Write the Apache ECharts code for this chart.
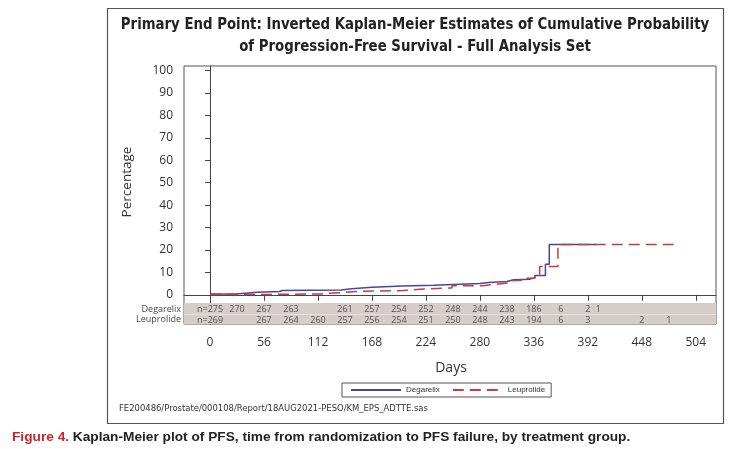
<!DOCTYPE html>
<html><head><meta charset="utf-8">
<script src="https://cdn.jsdelivr.net/npm/echarts@6/dist/echarts.min.js"></script>
<style>html,body{margin:0;padding:0;background:#fff}#c{width:738px;height:449px}</style>
</head><body><div id="c"></div>
<script>
// ---- data ----
const xTicks = [0, 56, 112, 168, 224, 280, 336, 392, 448, 504];
const yTicks = [0, 10, 20, 30, 40, 50, 60, 70, 80, 90, 100];

const degarelixDays = [0, 27, 49, 72, 75, 136, 147, 168, 200, 232, 280, 289, 308, 315, 332, 337, 348, 352, 401];
const degarelixPct  = [0.4, 1.2, 1.5, 1.9, 2.2, 2.7, 3.4, 3.9, 4.3, 5.0, 5.5, 5.9, 6.7, 7.0, 7.6, 8.6, 13.6, 22.4, 22.4];

const leuprolideDays = [0, 52, 114, 136, 151, 200, 218, 251, 283, 296, 314, 323, 337, 342, 361, 482];
const leuprolidePct  = [0.15, 0.4, 1.0, 1.5, 1.9, 2.5, 3.1, 4.0, 4.7, 5.5, 6.4, 7.4, 8.9, 12.6, 22.4, 22.4];

const degRiskDays   = [0, 28, 56, 84, 140, 168, 196, 224, 252, 280, 308, 336, 364, 392, 403];
const degRiskCounts = ['n=275', '270', '267', '263', '261', '257', '254', '252', '248', '244', '238', '186', '6', '2', '1'];
const leuRiskDays   = [0, 56, 84, 112, 140, 168, 196, 224, 252, 280, 308, 336, 364, 392, 448, 476];
const leuRiskCounts = ['n=269', '267', '264', '260', '257', '256', '254', '251', '250', '248', '243', '194', '6', '3', '2', '1'];

const seriesNames = ['Degarelix', 'Leuprolide'];
const titleLines = ['Primary End Point: Inverted Kaplan-Meier Estimates of Cumulative Probability',
                    'of Progression-Free Survival - Full Analysis Set'];
const footerText = 'FE200486/Prostate/000108/Report/18AUG2021-PESO/KM_EPS_ADTTE.sas';
const captionLabel = 'Figure 4.';
const captionText = ' Kaplan-Meier plot of PFS, time from randomization to PFS failure, by treatment group.';

// ---- chart ----
const DEG_ROW = -6.3, LEU_ROW = -11.2;
const zip = (a, b) => a.map((v, i) => [v, b[i]]);
const sans = "'Open Sans', 'Noto Sans', sans-serif";
const narrow = "'DejaVu Sans Condensed', 'Liberation Sans', sans-serif";
const arial = "'Liberation Sans', Arial, sans-serif";

const chart = echarts.init(document.getElementById('c'), null, {renderer: 'canvas'});
chart.setOption({
  animation: false,
  backgroundColor: '#fff',
  grid: {left: 184, top: 66, right: 22, bottom: 125, show: true, borderColor: '#555', borderWidth: 1},
  xAxis: {
    type: 'value', min: -27, max: 525,
    axisLine: {show: true, lineStyle: {color: '#444'}},
    axisTick: {show: true, customValues: xTicks, length: 6, lineStyle: {color: '#444'}},
    axisLabel: {customValues: xTicks, margin: 13, fontSize: 12, color: '#333', fontFamily: sans},
    splitLine: {show: false}
  },
  yAxis: {
    type: 'value', min: -13, max: 102,
    axisLine: {show: true, lineStyle: {color: '#444'}},
    axisTick: {show: true, customValues: yTicks, length: 5, lineStyle: {color: '#444'}},
    axisLabel: {customValues: yTicks, margin: 11, fontSize: 12, color: '#333', fontFamily: sans},
    splitLine: {show: false}
  },
  legend: {
    data: seriesNames, left: 342, top: 383, itemWidth: 50, itemHeight: 8, itemGap: 12,
    padding: [3, 6, 3, 8], borderColor: '#555', borderWidth: 1,
    itemStyle: {opacity: 0},
    textStyle: {fontSize: 8, color: '#333', fontFamily: arial}
  },
  series: [
    {
      name: seriesNames[0], type: 'line', step: 'end', symbol: 'none',
      data: zip(degarelixDays, degarelixPct),
      lineStyle: {color: '#4646a0', width: 1.5}, itemStyle: {color: '#4646a0'}, z: 3,
      markArea: {silent: true, itemStyle: {color: '#d4cdca'},
        data: [[{xAxis: -27, yAxis: -3.6}, {xAxis: 525, yAxis: -13}]]},
      markLine: {silent: true, symbol: 'none', label: {show: false},
        lineStyle: {color: '#e6e1df', type: 'solid', width: 1},
        data: [{yAxis: -8.6}]}
    },
    {
      name: seriesNames[1], type: 'line', step: 'end', symbol: 'none',
      data: zip(leuprolideDays, leuprolidePct),
      lineStyle: {color: '#cc3a3c', width: 1.5, type: [11, 6]}, itemStyle: {color: '#cc3a3c'}, z: 4
    },
    {
      type: 'scatter', symbolSize: 0, silent: true, z: 6,
      data: degRiskDays.map((d, i) => ({value: [d, DEG_ROW], name: degRiskCounts[i]})),
      label: {show: true, position: 'inside', formatter: p => p.name, fontSize: 9, color: '#333', fontFamily: sans}
    },
    {
      type: 'scatter', symbolSize: 0, silent: true, z: 6,
      data: leuRiskDays.map((d, i) => ({value: [d, LEU_ROW], name: leuRiskCounts[i]})),
      label: {show: true, position: 'inside', formatter: p => p.name, fontSize: 9, color: '#333', fontFamily: sans}
    }
  ],
  graphic: [
    {type: 'rect', shape: {x: 107.5, y: 8.5, width: 616, height: 415}, style: {fill: 'none', stroke: '#555', lineWidth: 1.2}, silent: true, z: -1},
    {type: 'text', x: 415, y: 25, scaleX: 0.925, style: {text: titleLines[0], fontSize: 16, fontWeight: 'bold', fontFamily: narrow, fill: '#222', align: 'center', verticalAlign: 'middle'}},
    {type: 'text', x: 415, y: 47, scaleX: 0.925, style: {text: titleLines[1], fontSize: 16, fontWeight: 'bold', fontFamily: narrow, fill: '#222', align: 'center', verticalAlign: 'middle'}},
    {type: 'text', x: 127, y: 182, rotation: Math.PI / 2, style: {text: 'Percentage', fontSize: 13.5, fontFamily: sans, fill: '#333', align: 'center', verticalAlign: 'middle'}},
    {type: 'text', x: 451, y: 368, style: {text: 'Days', fontSize: 14, fontFamily: sans, fill: '#333', align: 'center', verticalAlign: 'middle'}},
    {type: 'text', x: 181, y: 309, style: {text: seriesNames[0], fontSize: 9, fontFamily: sans, fill: '#444', align: 'right', verticalAlign: 'middle'}},
    {type: 'text', x: 181, y: 319.5, style: {text: seriesNames[1], fontSize: 9, fontFamily: sans, fill: '#444', align: 'right', verticalAlign: 'middle'}},
    {type: 'text', x: 119, y: 409, style: {text: footerText, fontSize: 9.4, fontFamily: narrow, fill: '#333', align: 'left', verticalAlign: 'middle'}},
    {type: 'text', x: 12, y: 437, style: {
      text: '{r|' + captionLabel + '}{b|' + captionText + '}', verticalAlign: 'middle', align: 'left',
      rich: {
        r: {fontSize: 13.7, fontWeight: 'bold', fontFamily: arial, fill: '#d2232a', color: '#d2232a'},
        b: {fontSize: 13.7, fontWeight: 'bold', fontFamily: arial, fill: '#222', color: '#222'}
      }}}
  ]
});
</script></body></html>
